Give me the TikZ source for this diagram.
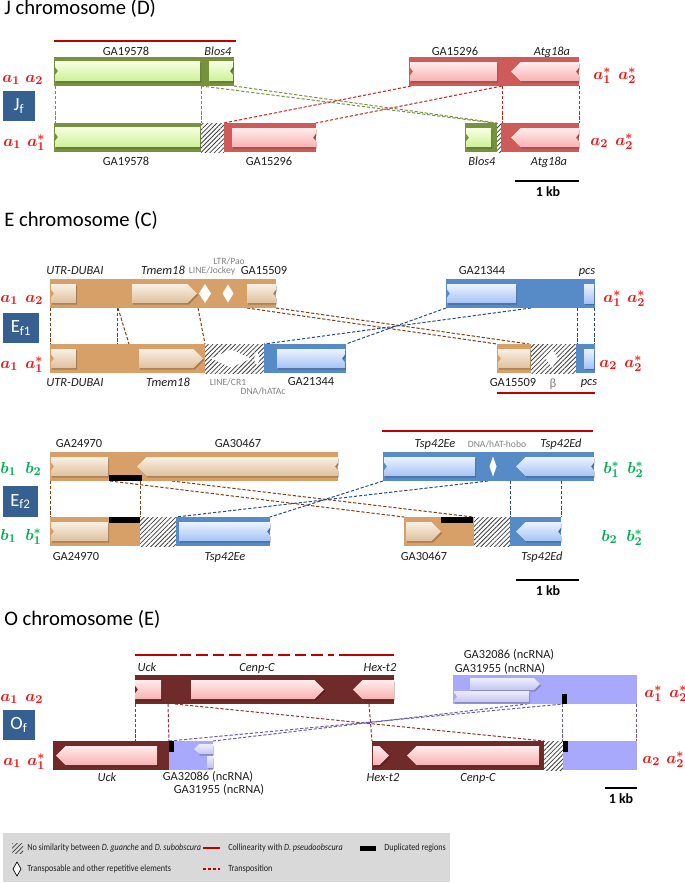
\documentclass[tikz,border=0pt]{standalone}
\usepackage{fontspec}
\setmainfont{Carlito}
\newfontfamily\legfont[FakeStretch=0.86]{Carlito}
\usetikzlibrary{patterns.meta}
\definecolor{gbar}{RGB}{118,146,60}
\definecolor{rbar}{RGB}{206,90,90}
\definecolor{obar}{RGB}{215,160,105}
\definecolor{bbar}{RGB}{86,139,200}
\definecolor{dbar}{RGB}{112,42,42}
\definecolor{lbar}{RGB}{168,168,252}
\definecolor{fbox}{RGB}{55,96,146}
\definecolor{colin}{RGB}{192,0,0}
\definecolor{alab}{RGB}{240,20,20}
\definecolor{blab}{RGB}{0,176,80}
\definecolor{cgreen}{RGB}{118,146,60}
\definecolor{cred}{RGB}{200,30,30}
\definecolor{cbrown}{RGB}{120,65,25}
\definecolor{cblue}{RGB}{40,75,135}
\definecolor{cdred}{RGB}{135,55,55}
\definecolor{cpurp}{RGB}{110,90,170}
\definecolor{txt}{RGB}{30,30,30}
\definecolor{gtxt}{RGB}{130,130,130}
\definecolor{leg}{RGB}{217,217,217}
\definecolor{ggT}{RGB}{248,255,228}\definecolor{ggB}{RGB}{205,240,150}
\definecolor{grT}{RGB}{255,236,236}\definecolor{grB}{RGB}{248,178,178}
\definecolor{gbT}{RGB}{250,240,228}\definecolor{gbB}{RGB}{222,192,158}
\definecolor{glT}{RGB}{236,243,255}\definecolor{glB}{RGB}{165,195,245}
\definecolor{gvT}{RGB}{238,238,255}\definecolor{gvB}{RGB}{196,196,240}
\tikzset{
 gsh/.style={preaction={fill=black,fill opacity=0.22,transform canvas={shift={(1.2,1.6)}}}},
 ggr/.style={top color=ggT,bottom color=ggB},
 gre/.style={top color=grT,bottom color=grB},
 gbr/.style={top color=gbT,bottom color=gbB},
 gbl/.style={top color=glT,bottom color=glB},
 glv/.style={top color=gvT,bottom color=gvB},
 hatchp/.style={pattern={Lines[angle=45,distance=2.4pt,line width=0.6pt]},pattern color=black!75},
 conn/.style={dash pattern=on 2.4pt off 1.4pt, line width=0.75pt},
 glab/.style={anchor=base,inner sep=0,text=txt,font=\fontsize{9.3}{10}\selectfont},
 it/.style={font=\fontsize{9.3}{10}\selectfont\itshape},
 graylab/.style={anchor=base,inner sep=0,text=gtxt,font=\fontsize{7.2}{8}\selectfont},
 mlab/.style={anchor=base west,inner sep=0,font=\fontsize{12.5}{14}\selectfont\boldmath},
 titl/.style={anchor=base west,inner sep=0,font=\fontsize{15.5}{18}\selectfont,text=black},
 fbtext/.style={text=white,inner sep=0,font=\fontsize{14}{16}\selectfont},
 kb/.style={anchor=base,inner sep=0,font=\fontsize{10.5}{12}\selectfont\bfseries},
 legt/.style={anchor=west,inner sep=0,font=\legfont\fontsize{7.1}{9}\selectfont,text=txt}
}
\newcounter{lb}
\newcommand\glab[4][]{\stepcounter{lb}\node[glab,#1] (lab\thelb) at (#2,{#3+3.8}) {#4};}
\newcommand\grl[3]{\stepcounter{lb}\node[graylab] (gl\thelb) at (#1,{#2+3}) {#3};}
\newcommand\ml[4]{\stepcounter{lb}\node[mlab,text=#1] (m\thelb) at (#2,#3) {#4};}
\newcommand\hatchbox[4]{\fill[white] (#1,#2) rectangle (#3,#4);\fill[hatchp] (#1,#2) rectangle (#3,#4);}
% gene shapes: style, x1, x2, y1, y2
\newcommand\gLN[5]{\path[#1,gsh] (#2,#4) -- (#3,#4) -- (#3,#5) -- (#2,#5) -- (#2,{(#4+#5)/2+4}) -- ({#2+3},{(#4+#5)/2}) -- (#2,{(#4+#5)/2-4}) -- cycle;}
\newcommand\gRN[5]{\path[#1,gsh] (#2,#4) -- (#3,#4) -- (#3,{(#4+#5)/2-4}) -- ({#3-3},{(#4+#5)/2}) -- (#3,{(#4+#5)/2+4}) -- (#3,#5) -- (#2,#5) -- cycle;}
\newcommand\gB[5]{\path[#1,gsh] (#2,#4) rectangle (#3,#5);}
\newcommand\gAR[5]{\path[#1,gsh] (#2,#4) -- ({#3-(#5-#4)/2},#4) -- (#3,{(#4+#5)/2}) -- ({#3-(#5-#4)/2},#5) -- (#2,#5) -- cycle;}
\newcommand\gAL[5]{\path[#1,gsh] (#2,{(#4+#5)/2}) -- ({#2+(#5-#4)/2},#4) -- (#3,#4) -- (#3,{(#4+#5)/2-4}) -- ({#3-3},{(#4+#5)/2}) -- (#3,{(#4+#5)/2+4}) -- (#3,#5) -- ({#2+(#5-#4)/2},#5) -- cycle;}
\newcommand\gALp[5]{\path[#1,gsh] (#2,{(#4+#5)/2}) -- ({#2+(#5-#4)/2},#4) -- (#3,#4) -- (#3,#5) -- ({#2+(#5-#4)/2},#5) -- cycle;}
\newcommand\dia[4]{\fill[white] ({#1-#3},#2) -- (#1,{#2-#4}) -- ({#1+#3},#2) -- (#1,{#2+#4}) -- cycle;}
\begin{document}
\begin{tikzpicture}[x=0.75pt,y=-0.75pt]
\useasboundingbox (0,0) rectangle (685,883);
% ================= J chromosome =================
\node[titl] (tJ) at (4,14) {J chromosome (D)};
\draw[colin,line width=2.2pt] (54,41) -- (236,41);
\glab{126}{52}{GA19578}
\glab[it]{218}{52}{Blos4}
\glab{455}{52}{GA15296}
\glab[it]{552}{52}{Atg18a}
% connectors
\draw[conn,cgreen] (55,86) -- (55,123);
\draw[conn,cgreen] (201,86) -- (201,123);
\draw[conn,cgreen] (201,86) -- (494,123);
\draw[conn,cgreen] (234,86) -- (497,123);
\draw[conn,cred] (411,86) -- (224,123);
\draw[conn,cred] (502,86) -- (316,123);
\draw[conn,cred] (502,86) -- (502,123);
\draw[conn,cred] (579,86) -- (579,123);
% top row
\fill[gbar] (54,57) rectangle (234,86);
\gLN{ggr}{55}{200}{61}{81}
\gRN{ggr}{209}{233}{61}{81}
\fill[rbar] (409,57) rectangle (579,86);
\gLN{gre}{410}{497}{62}{81}
\gAL{gre}{511}{579}{62}{81}
% bottom row
\fill[gbar] (54,123) rectangle (201,152);
\gLN{ggr}{55}{200}{127}{147}
\hatchbox{201}{123}{224}{152}
\fill[rbar] (224,123) rectangle (316,152);
\gRN{gre}{232}{316}{128}{147}
\fill[gbar] (465,123) rectangle (497,152);
\gLN{ggr}{466}{491}{128}{147}
\hatchbox{497}{123}{501}{152}
\fill[rbar] (501,123) rectangle (579,152);
\gAL{gre}{511}{579}{128}{147}
\glab{126}{162}{GA19578}
\glab{269}{162}{GA15296}
\glab[it]{482}{162}{Blos4}
\glab[it]{549}{162}{Atg18a}
% labels
\ml{alab}{2}{82}{$a_1$}\ml{alab}{25}{82}{$a_2$}
\ml{alab}{593}{79}{$a^{*}_1$}\ml{alab}{618}{79}{$a^{*}_2$}
\ml{alab}{3}{146}{$a_1$}\ml{alab}{27}{146}{$a^{*}_1$}
\ml{alab}{590}{145}{$a_2$}\ml{alab}{615}{145}{$a^{*}_2$}
\fill[fbox] (3,91) rectangle (35,121);
\node[fbtext] (Jf) at (19,106) {J\textsubscript{f}};
\draw[black,line width=1.9pt] (515,181) -- (579,181);
\node[kb] (kb1) at (548,196) {1 kb};
% ================= E chromosome =================
\node[titl] (tE) at (4,226) {E chromosome (C)};
% --- Ef1 ---
\glab[it]{75}{271}{UTR-DUBAI}
\glab[it]{163}{271}{Tmem18}
\grl{229}{261}{LTR/Pao}
\grl{212}{270}{LINE/Jockey}
\glab{264}{271}{GA15509}
\glab{482}{271}{GA21344}
\glab[it]{587}{271}{pcs}
\draw[conn,cbrown] (50,308) -- (50,344);
\draw[conn,cbrown] (117,308) -- (117,344);
\draw[conn,cbrown] (118,308) -- (129,344);
\draw[conn,cbrown] (198,308) -- (205,344);
\draw[conn,cbrown] (247,308) -- (497,344);
\draw[conn,cbrown] (276,308) -- (529,344);
\draw[conn,cblue] (446,308) -- (346,344);
\draw[conn,cblue] (531,308) -- (264,344);
\draw[conn,cblue] (577,308) -- (577,344);
\draw[conn,cblue] (594,308) -- (594,344);
\fill[obar] (50,279) rectangle (276,308);
\gLN{gbr}{51}{76}{284}{303}
\gAR{gbr}{132}{197}{284}{303}
\dia{205}{293.5}{6}{9.5}
\dia{228}{293.5}{5.5}{9}
\gRN{gbr}{247}{276}{284}{303}
\fill[bbar] (446,279) rectangle (595,308);
\gLN{gbl}{447}{516}{284}{303}
\gB{gbl}{584}{594}{284}{303}
\fill[obar] (50,344) rectangle (205,373);
\gLN{gbr}{51}{76}{349}{368}
\gAR{gbr}{139}{203}{349}{368}
\hatchbox{205}{344}{264}{373}
\dia{231}{358.5}{20}{9}
\dia{257}{358.5}{3}{7}
\fill[bbar] (264,344) rectangle (346,373);
\gRN{gbl}{277}{345}{349}{368}
\fill[obar] (497,344) rectangle (531,373);
\gLN{gbr}{498}{530}{349}{368}
\hatchbox{531}{344}{576}{373}
\dia{552}{358.5}{6}{9.5}
\fill[bbar] (576,344) rectangle (595,373);
\gB{gbl}{584}{594}{349}{368}
\draw[colin,line width=2.2pt] (497,393) -- (595,393);
\glab[it]{75}{383}{UTR-DUBAI}
\glab[it]{168}{383}{Tmem18}
\grl{228}{382}{LINE/CR1}
\grl{263}{391}{DNA/hATAc}
\glab{311}{382}{GA21344}
\glab{513}{383}{GA15509}
\stepcounter{lb}\node[anchor=base,inner sep=0,text=gtxt,font=\fontsize{9.5}{10}\selectfont] (beta) at (553,387) {β};
\glab[it]{589}{382}{pcs}
\ml{alab}{0}{302}{$a_1$}\ml{alab}{25}{302}{$a_2$}
\ml{alab}{603}{302}{$a^{*}_1$}\ml{alab}{627}{302}{$a^{*}_2$}
\ml{alab}{0}{368}{$a_1$}\ml{alab}{25}{368}{$a^{*}_1$}
\ml{alab}{599}{367}{$a_2$}\ml{alab}{624}{367}{$a^{*}_2$}
\fill[fbox] (3,313) rectangle (39,343);
\node[fbtext] (Ef1) at (21,328) {E\textsubscript{f1}};
% --- Ef2 ---
\draw[colin,line width=2.2pt] (382,431) -- (593,431);
\glab{79}{444}{GA24970}
\glab{238}{444}{GA30467}
\glab[it]{435}{444}{Tsp42Ee}
\grl{497}{444}{DNA/hAT-hobo}
\glab[it]{561}{444}{Tsp42Ed}
\draw[conn,cbrown] (50,481) -- (50,517);
\draw[conn,cbrown] (140,481) -- (140,517);
\draw[conn,cbrown] (110,481) -- (404,517);
\draw[conn,cbrown] (172,481) -- (473,517);
\draw[conn,cblue] (383,481) -- (270,517);
\draw[conn,cblue] (488,481) -- (176,517);
\draw[conn,cblue] (510,481) -- (510,517);
\draw[conn,cblue] (561,481) -- (561,517);
\fill[obar] (50,452) rectangle (338,481);
\gLN{gbr}{51}{108}{457}{476}
\gAL{gbr}{137}{338}{457}{476}
\fill[black] (109,475) rectangle (142,481);
\fill[bbar] (383,452) rectangle (594,481);
\gLN{gbl}{384}{475}{457}{476}
\dia{493}{466.5}{3.5}{10}
\gAL{gbl}{516}{594}{457}{476}
\fill[obar] (50,517) rectangle (140,546);
\gLN{gbr}{51}{108}{522}{541}
\fill[black] (109,517) rectangle (140,523);
\hatchbox{140}{517}{176}{546}
\fill[bbar] (176,517) rectangle (270,546);
\gRN{gbl}{179}{270}{522}{541}
\fill[obar] (404,517) rectangle (474,546);
\gAR{gbr}{406}{441}{522}{541}
\fill[black] (441,517) rectangle (473,523);
\hatchbox{474}{517}{510}{546}
\fill[bbar] (510,517) rectangle (561,546);
\gAL{gbl}{516}{561}{522}{541}
\glab{76}{557}{GA24970}
\glab[it]{225}{557}{Tsp42Ee}
\glab{424}{557}{GA30467}
\glab[it]{542}{557}{Tsp42Ed}
\ml{blab}{0}{473}{$b_1$}\ml{blab}{25}{473}{$b_2$}
\ml{blab}{603}{473}{$b^{*}_1$}\ml{blab}{627}{473}{$b^{*}_2$}
\ml{blab}{0}{540}{$b_1$}\ml{blab}{25}{540}{$b^{*}_1$}
\ml{blab}{601}{541}{$b_2$}\ml{blab}{626}{541}{$b^{*}_2$}
\fill[fbox] (3,486) rectangle (38,517);
\node[fbtext] (Ef2) at (20.5,501.5) {E\textsubscript{f2}};
\draw[black,line width=1.9pt] (516,580) -- (579,580);
\node[kb] (kb2) at (548,595) {1 kb};
% ================= O chromosome =================
\node[titl] (tO) at (4,625) {O chromosome (E)};
\draw[colin,line width=2.2pt] (135,655) -- (177,655);
\draw[colin,line width=2.2pt,dash pattern=on 8.5pt off 3.8pt] (180,655) -- (334,655);
\draw[colin,line width=2.2pt] (339,655) -- (394,655);
\glab[it]{147}{668}{Uck}
\glab[it]{257}{668}{Cenp-C}
\glab[it]{380}{668}{Hex-t2}
\glab{509}{655}{GA32086 (ncRNA)}
\glab{500}{669}{GA31955 (ncRNA)}
\draw[conn,cdred] (135,704) -- (135,741);
\draw[conn,cdred] (168,704) -- (169,741);
\draw[conn,cdred] (175,704) -- (544,741);
\draw[conn,cdred] (369,704) -- (372,741);
\draw[conn,cpurp] (169,741) -- (563,704);
\draw[conn,cpurp] (213,741) -- (527,704);
\draw[conn,cpurp] (562,704) -- (562,741);
\draw[conn,cpurp] (636,704) -- (636,741);
\fill[dbar] (135,675) rectangle (394,704);
\gLN{gre}{135}{161}{680}{699}
\gAR{gre}{191}{324}{680}{699}
\gALp{gre}{353}{394}{680}{699}
\fill[lbar] (453,675) rectangle (637,704);
\gAR{glv}{470}{540}{678}{690}
\gLN{glv}{454}{529}{691}{702}
\fill[black] (562,694) rectangle (567,704);
\fill[dbar] (53,741) rectangle (169,770);
\gALp{gre}{56}{157}{746}{765}
\fill[lbar] (169,741) rectangle (213,770);
\fill[black] (169,741) rectangle (174,752);
\gALp{glv}{194}{213}{744}{754}
\gB{glv}{207}{213}{756}{767}
\fill[dbar] (372,741) rectangle (544,770);
\gAR{gre}{373}{389}{746}{765}
\gALp{gre}{407}{539}{746}{765}
\hatchbox{544}{741}{563}{770}
\fill[lbar] (563,741) rectangle (637,770);
\fill[black] (563,741) rectangle (568,752);
\glab[it]{107}{778}{Uck}
\glab{208}{777}{GA32086 (ncRNA)}
\glab{219}{790}{GA31955 (ncRNA)}
\glab[it]{383}{778}{Hex-t2}
\glab[it]{478}{778}{Cenp-C}
\ml{alab}{0}{701}{$a_1$}\ml{alab}{25}{701}{$a_2$}
\ml{alab}{644}{697}{$a^{*}_1$}\ml{alab}{669}{697}{$a^{*}_2$}
\ml{alab}{3}{765}{$a_1$}\ml{alab}{27}{765}{$a^{*}_1$}
\ml{alab}{642}{763}{$a_2$}\ml{alab}{666}{763}{$a^{*}_2$}
\fill[fbox] (3,710) rectangle (35,740);
\node[fbtext] (Of) at (19,725) {O\textsubscript{f}};
\draw[black,line width=1.9pt] (605,788) -- (637,788);
\node[kb] (kb3) at (621,803) {1 kb};
% ================= Legend =================
\fill[leg] (3,833) rectangle (450,882);
\fill[hatchp] (12,843) rectangle (23,853);
\node[legt] (l1) at (27,848) {No similarity between \textit{D. guanche} and \textit{D. subobscura}};
\draw[colin,line width=2.2pt] (203,848) -- (220,848);
\node[legt] (l2) at (228,848) {Collinearity with \textit{D. pseudoobscura}};
\fill[black] (360,846) rectangle (376,851);
\node[legt] (l3) at (384,848) {Duplicated regions};
\draw[black,fill=white,line width=0.5pt] (13,869) -- (17,862) -- (21,869) -- (17,876) -- cycle;
\node[legt] (l4) at (27,869) {Transposable and other repetitive elements};
\draw[colin,line width=2.2pt,dash pattern=on 2.2pt off 1.6pt] (203,869) -- (220,869);
\node[legt] (l5) at (228,869) {Transposition};
\end{tikzpicture}
\end{document}
